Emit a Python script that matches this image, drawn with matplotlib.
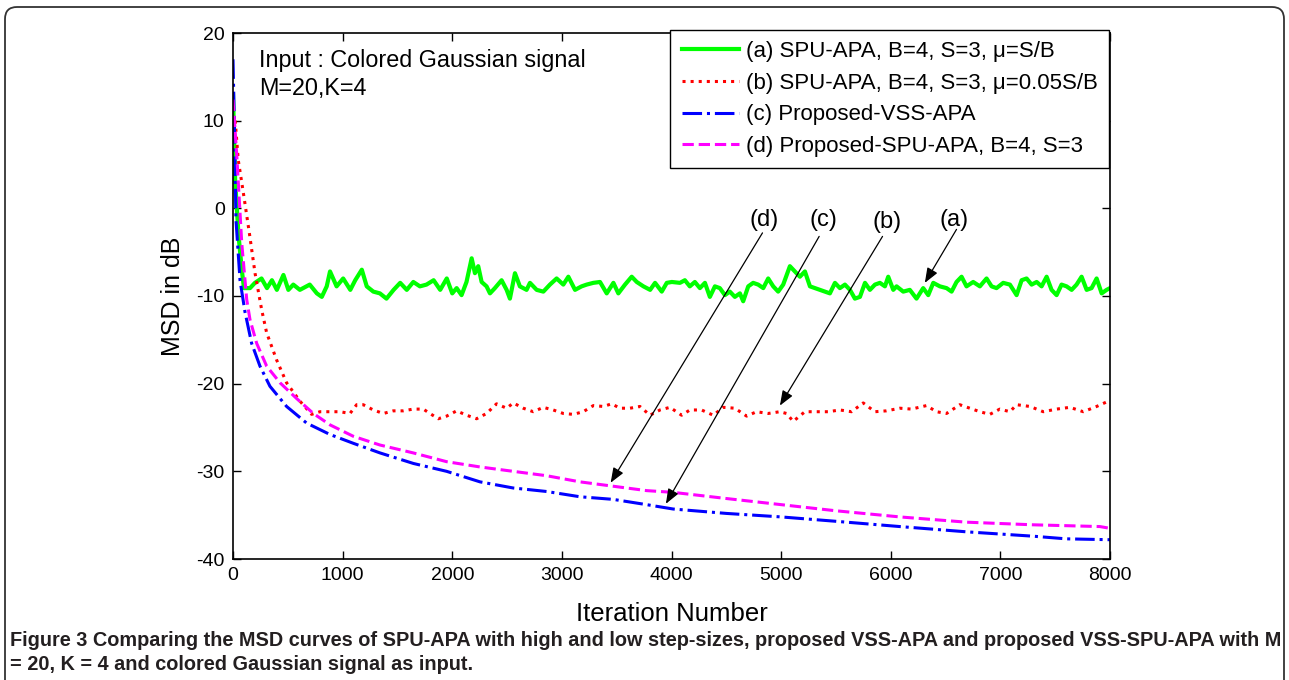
import numpy as np
import matplotlib.pyplot as plt
from matplotlib.patches import FancyBboxPatch
from matplotlib.transforms import IdentityTransform

plt.rcParams['font.family'] = ['Liberation Sans', 'DejaVu Sans']
plt.rcParams['axes.unicode_minus'] = False

# (a) SPU-APA, mu=S/B  (green, solid)
iterA = [0, 20, 50, 80, 100, 155, 200, 260, 310, 355, 400, 460, 505, 550, 610, 700, 765, 810, 855, 885,
         945, 1005, 1070, 1115, 1175, 1220, 1280, 1340, 1400, 1465, 1525, 1585, 1645, 1705, 1765, 1830,
         1890, 1950, 2000, 2040, 2085, 2130, 2177, 2207, 2237, 2268, 2313, 2344, 2389, 2450, 2496, 2526,
         2572, 2617, 2678, 2709, 2770, 2831, 2891, 2952, 3013, 3059, 3120, 3180, 3226, 3287, 3348, 3409,
         3470, 3515, 3576, 3637, 3683, 3744, 3805, 3850, 3911, 3957, 4003, 4077, 4122, 4167, 4213, 4259,
         4305, 4350, 4396, 4441, 4487, 4532, 4578, 4624, 4654, 4700, 4745, 4791, 4837, 4882, 4928, 4973,
         5019, 5080, 5126, 5171, 5217, 5263, 5308, 5354, 5400, 5445, 5491, 5536, 5582, 5628, 5673, 5719,
         5765, 5810, 5856, 5901, 5947, 5977, 6023, 6053, 6114, 6174, 6235, 6296, 6342, 6388, 6448, 6509,
         6555, 6600, 6646, 6691, 6752, 6813, 6874, 6920, 6965, 7026, 7087, 7148, 7194, 7239, 7285, 7331,
         7376, 7422, 7467, 7513, 7558, 7604, 7650, 7695, 7741, 7787, 7832, 7878, 7924, 7969, 8000]
msdA = [13.0, 3.0, -3.0, -7.0, -9.1, -9.1, -8.5, -8.0, -9.1, -8.2, -9.3, -7.6, -9.3, -8.7, -9.3, -8.7, -9.7, -10.1, -8.9, -7.2,
        -8.9, -8.0, -9.3, -8.2, -7.0, -8.9, -9.5, -9.7, -10.3, -9.3, -8.5, -9.3, -8.4, -8.9, -8.7, -8.2,
        -9.3, -8.0, -9.7, -9.1, -9.9, -8.4, -5.7, -7.4, -6.6, -8.4, -8.9, -9.7, -9.1, -8.2, -9.3, -10.3,
        -7.4, -8.9, -9.3, -8.5, -9.3, -9.5, -8.7, -8.0, -8.7, -7.8, -9.3, -8.9, -8.7, -8.5, -8.4, -9.7,
        -8.5, -9.7, -8.7, -7.8, -8.4, -8.9, -9.3, -8.5, -9.5, -8.5, -8.4, -8.5, -8.2, -8.9, -8.4, -9.1,
        -8.5, -10.1, -8.9, -9.1, -9.9, -9.5, -10.1, -9.7, -10.6, -8.9, -8.5, -8.7, -9.1, -8.0, -8.9, -9.5,
        -8.7, -6.6, -7.2, -7.8, -7.2, -8.9, -9.1, -9.3, -9.5, -9.7, -8.5, -9.1, -8.7, -9.3, -10.3, -10.1,
        -8.5, -9.3, -8.7, -8.5, -8.9, -7.8, -9.3, -8.9, -9.5, -9.3, -10.3, -9.1, -9.9, -8.5, -8.9, -9.1,
        -9.5, -8.4, -7.8, -8.9, -8.4, -8.9, -8.0, -8.9, -9.1, -8.5, -8.7, -9.9, -8.2, -8.0, -8.7, -8.4,
        -8.9, -7.8, -9.3, -9.9, -8.7, -8.9, -9.3, -8.7, -7.8, -9.3, -9.1, -8.0, -9.7, -9.3, -9.1]

# (b) SPU-APA, mu=0.05S/B  (red, dotted)
iterB = [20, 48, 94, 149, 201, 262, 307, 398, 489, 611, 717, 793, 885, 976, 1067, 1128, 1188, 1280, 1371,
         1462, 1553, 1644, 1736, 1796, 1873, 1949, 2040, 2131, 2222, 2313, 2404, 2496, 2557, 2648, 2739,
         2830, 2921, 3013, 3104, 3195, 3287, 3378, 3454, 3530, 3621, 3712, 3804, 3895, 3986, 4092, 4168,
         4274, 4381, 4472, 4578, 4685, 4776, 4882, 4988, 5049, 5110, 5217, 5323, 5429, 5536, 5642, 5749,
         5855, 5961, 6083, 6189, 6326, 6417, 6509, 6630, 6721, 6813, 6904, 6995, 7087, 7148, 7270, 7391,
         7513, 7634, 7756, 7878, 7984]
msdB = [10.0, 5.5, 1.8, -2.8, -7.4, -11.6, -14.2, -17.3, -19.9, -22.0, -23.5, -23.2, -23.2, -23.2, -23.4,
        -22.4, -22.4, -23.0, -23.4, -23.1, -23.1, -22.9, -22.9, -23.4, -24.0, -23.7, -23.1, -23.6, -24.0,
        -23.4, -22.3, -22.8, -22.2, -22.8, -23.2, -22.7, -23.0, -23.4, -23.5, -23.2, -22.5, -22.6, -22.3,
        -22.8, -22.8, -22.6, -23.6, -23.0, -22.7, -23.6, -23.0, -23.0, -23.6, -22.7, -22.8, -23.7, -23.2,
        -23.4, -23.2, -23.4, -24.3, -23.2, -23.2, -23.2, -23.0, -23.2, -22.2, -23.2, -23.1, -22.8, -22.9,
        -22.5, -23.2, -23.4, -22.4, -22.8, -23.2, -23.5, -22.9, -23.2, -22.4, -22.6, -23.2, -22.9, -22.7,
        -23.2, -22.6, -22.0]

# (c) Proposed-VSS-APA  (blue, dash-dot)
iterC = [0, 15, 27, 64, 109, 170, 246, 337, 489, 672, 885, 1097, 1341, 1645, 1949, 2253, 2556, 2861,
         3165, 3469, 3773, 4016, 4500, 5000, 5500, 6083, 6691, 7300, 7600, 8000]
msdC = [17.0, 8.0, -1.3, -8.2, -11.8, -15.4, -18.0, -20.3, -22.6, -24.5, -25.8, -26.8, -27.9, -29.1,
        -30.0, -31.2, -31.9, -32.3, -32.9, -33.2, -33.8, -34.3, -34.8, -35.2, -35.7, -36.3, -36.9, -37.4,
        -37.7, -37.8]

# (d) Proposed-SPU-APA  (magenta, dashed)
iterD = [0, 33, 80, 125, 155, 216, 307, 429, 581, 733, 885, 1097, 1341, 1645, 1949, 2253, 2556, 2861,
         3165, 3469, 3773, 4016, 4500, 5000, 5500, 6083, 6691, 7300, 7908, 8000]
msdD = [12.4, 6.3, -4.0, -10.4, -12.7, -15.4, -18.0, -19.9, -21.7, -23.4, -24.7, -26.0, -27.0, -27.9,
        -28.9, -29.5, -30.0, -30.5, -31.2, -31.7, -32.2, -32.4, -33.1, -33.8, -34.5, -35.2, -35.8, -36.1,
        -36.3, -36.5]

labels = ['(a) SPU-APA, B=4, S=3, μ=S/B',
          '(b) SPU-APA, B=4, S=3, μ=0.05S/B',
          '(c) Proposed-VSS-APA',
          '(d) Proposed-SPU-APA, B=4, S=3']

# curve labels: text position, line start, arrow tip
tags = ['(a)', '(b)', '(c)', '(d)']
tag_pos = [(6576, -1.35), (5967, -1.6), (5390, -1.35), (4843, -1.35)]
arrow_from = [(6600, -2.4), (5925, -3.2), (5347, -3.2), (4830, -2.8)]
arrow_to = [(6311, -8.5), (4989, -22.5), (3949, -33.7), (3445, -31.3)]

fig = plt.figure(figsize=(12.89, 6.80), dpi=100)
ax = fig.add_axes([233 / 1289, 1 - 559 / 680, 877 / 1289, 526 / 680])

ax.plot(iterA, msdA, color='#00ff00', lw=3.0, ls='-', label=labels[0])
ax.plot(iterB, msdB, color='#ff0000', lw=2.2, ls=':', label=labels[1])
ax.plot(iterC, msdC, color='#0000ff', lw=2.2, ls='-.', label=labels[2])
ax.plot(iterD, msdD, color='#ff00ff', lw=2.2, ls='--', label=labels[3])

ax.set_xlim(0, 8000)
ax.set_ylim(-40, 20)
ax.set_xticks(np.arange(0, 8001, 1000))
ax.set_yticks(np.arange(-40, 21, 10))
ax.tick_params(direction='in', top=True, right=True, length=6, width=1, labelsize=14, pad=6)
for s in ax.spines.values():
    s.set_linewidth(1.2)

ax.set_xlabel('Iteration Number', fontsize=18.5)
ax.set_ylabel('MSD in dB', fontsize=18)
ax.xaxis.set_label_coords(0.5, -0.082)
ax.yaxis.set_label_coords(-0.055, 0.5)

ax.text(237, 16.16, 'Input : Colored Gaussian signal', fontsize=16.8, va='baseline')
ax.text(237, 12.93, 'M=20,K=4', fontsize=16.8, va='baseline')

for t, p, a, b in zip(tags, tag_pos, arrow_from, arrow_to):
    ax.text(p[0], p[1], t, fontsize=17, ha='center', va='center')
    ax.annotate('', xy=b, xytext=a,
                arrowprops=dict(arrowstyle='-|>,head_length=0.9,head_width=0.35', color='k', lw=0.9,
                                shrinkA=0, shrinkB=0))

leg = ax.legend(loc='upper right', bbox_to_anchor=(1109 / 1289, 1 - 30 / 680), bbox_transform=fig.transFigure,
                borderaxespad=0, fontsize=16, fancybox=False, edgecolor='k', framealpha=1,
                handlelength=2.6, handletextpad=0.3, labelspacing=0.48, borderpad=0.5)
leg.get_frame().set_linewidth(1.0)

# figure frame
fig.patches.append(FancyBboxPatch((5, -30), 1279, 703, boxstyle='round,pad=0,rounding_size=12',
                                  transform=IdentityTransform(), fill=False, edgecolor='#333333', lw=1.3))

# caption
renderer = fig.canvas.get_renderer()
cap1 = fig.text(10 / 1289, 1 - 640 / 680,
                'Figure 3 Comparing the MSD curves of SPU-APA with high and low step-sizes, proposed VSS-APA and proposed VSS-SPU-APA with M',
                fontsize=13, fontweight='bold', color='#231f20', va='center')
w = cap1.get_window_extent(renderer).width
cap1.set_fontsize(13 * 1270 / w)
fig.text(10 / 1289, 1 - 664 / 680, '= 20, K = 4 and colored Gaussian signal as input.',
         fontsize=cap1.get_fontsize(), fontweight='bold', color='#231f20', va='center')

plt.savefig('out.png', dpi=100)
